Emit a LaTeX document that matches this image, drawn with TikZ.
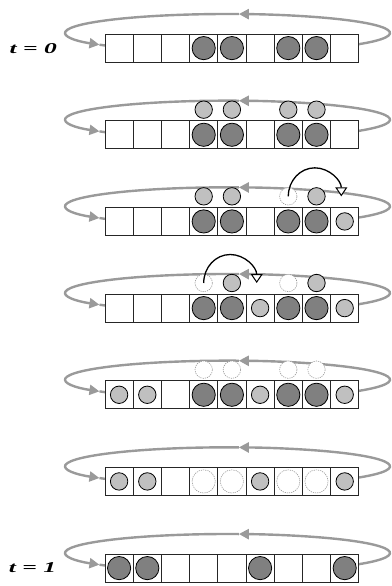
\documentclass[tikz,border=0pt]{standalone}
\usepackage{fontspec}
\setmainfont{Liberation Serif}
\usetikzlibrary{arrows.meta,calc}
\definecolor{loopgray}{HTML}{9A9A9A}
\definecolor{darkfill}{HTML}{808080}
\definecolor{lightfill}{HTML}{C0C0C0}
\newcommand\ringloop{%
  \draw[loopline,looptip] ($(227.5,-33)+(-36:162.5 and 19)$) arc[start angle=-36,end angle=86,x radius=162.5,y radius=19];
  \draw[loopline,looptip] ($(227.5,-33)+(86:162.5 and 19)$) arc[start angle=86,end angle=218,x radius=162.5,y radius=19];
  \draw[loopline] ($(227.5,-33)+(218:162.5 and 19)$) arc[start angle=218,end angle=223,x radius=162.5,y radius=19];
}
\newcommand\stripcells[1]{%
  \foreach \i in {1,...,9} \node[cell] (s#1-\i) at ({105+28.2*(\i-0.5)},-48.1) {};
}
\begin{document}
\begin{tikzpicture}[x=1pt,y=1pt,
  cell/.style={draw=black!85,line width=0.8pt,fill=white,minimum size=28.2pt,inner sep=0pt,outer sep=0pt},
  darkc/.style={circle,draw=black,line width=0.8pt,fill=darkfill,minimum size=23.2pt,inner sep=0pt},
  lightc/.style={circle,draw=black,line width=0.8pt,fill=lightfill,minimum size=17.4pt,inner sep=0pt},
  ghost/.style={circle,draw=black!40,line width=0.6pt,dash pattern=on 1.2pt off 1pt,fill=white,minimum size=17.4pt,inner sep=0pt},
  bigghost/.style={ghost,minimum size=23.2pt},
  loopline/.style={draw=loopgray,line width=2.4pt},
  looptip/.style={-{Triangle[length=10pt,width=10pt]}},
  hop/.style={draw=black,line width=1.3pt,-{Triangle[length=9pt,width=12pt,fill=white,line width=1pt]}},
  tlabel/.style={font=\fontsize{15}{15}\selectfont\bfseries\itshape,xscale=1.7,inner sep=0pt}
]
\useasboundingbox (0,0) rectangle (391,-586);

% row 0 : t = 0
\begin{scope}[yshift=0pt]
  \ringloop
  \stripcells{0}
  \foreach \i in {4,5,7,8} \node[darkc] (d0-\i) at (s0-\i) {};
  \node[tlabel] (t0) at (33.3,-48.1) {t = 0};
\end{scope}

% row 1
\begin{scope}[yshift=-86.67pt]
  \ringloop
  \stripcells{1}
  \foreach \i in {4,5,7,8} \node[darkc] (d1-\i) at (s1-\i) {};
  \foreach \i in {4,5,7,8} \node[lightc] (a1-\i) at ([yshift=25.1pt]s1-\i.center) {};
\end{scope}

% row 2
\begin{scope}[yshift=-173.33pt]
  \ringloop
  \stripcells{2}
  \foreach \i in {4,5,7,8} \node[darkc] (d2-\i) at (s2-\i) {};
  \node[lightc] (l2-9) at (s2-9) {};
  \foreach \i in {4,5,8} \node[lightc] (a2-\i) at ([yshift=25.1pt]s2-\i.center) {};
  \node[ghost] (g2-7) at ([yshift=25.1pt]s2-7.center) {};
  \draw[hop] (g2-7.center) arc[start angle=180,end angle=0,x radius=26.5,y radius=28.5] coordinate (h2);
\end{scope}

% row 3
\begin{scope}[yshift=-260pt]
  \ringloop
  \stripcells{3}
  \foreach \i in {4,5,7,8} \node[darkc] (d3-\i) at (s3-\i) {};
  \foreach \i in {6,9} \node[lightc] (l3-\i) at (s3-\i) {};
  \foreach \i in {5,8} \node[lightc] (a3-\i) at ([yshift=25.1pt]s3-\i.center) {};
  \foreach \i in {4,7} \node[ghost] (g3-\i) at ([yshift=25.1pt]s3-\i.center) {};
  \draw[hop] (g3-4.center) arc[start angle=180,end angle=0,x radius=26.5,y radius=28.5] coordinate (h3);
\end{scope}

% row 4
\begin{scope}[yshift=-346.67pt]
  \ringloop
  \stripcells{4}
  \foreach \i in {4,5,7,8} \node[darkc] (d4-\i) at (s4-\i) {};
  \foreach \i in {1,2,6,9} \node[lightc] (l4-\i) at (s4-\i) {};
  \foreach \i in {4,5,7,8} \node[ghost] (g4-\i) at ([yshift=25.1pt]s4-\i.center) {};
\end{scope}

% row 5
\begin{scope}[yshift=-433.33pt]
  \ringloop
  \stripcells{5}
  \foreach \i in {1,2,6,9} \node[lightc] (l5-\i) at (s5-\i) {};
  \foreach \i in {4,5,7,8} \node[bigghost] (g5-\i) at (s5-\i) {};
\end{scope}

% row 6 : t = 1
\begin{scope}[yshift=-520pt]
  \ringloop
  \stripcells{6}
  \foreach \i in {1,2,6,9} \node[darkc] (d6-\i) at (s6-\i) {};
  \node[tlabel] (t1) at (32.5,-48.1) {t = 1};
\end{scope}
\end{tikzpicture}
\end{document}
